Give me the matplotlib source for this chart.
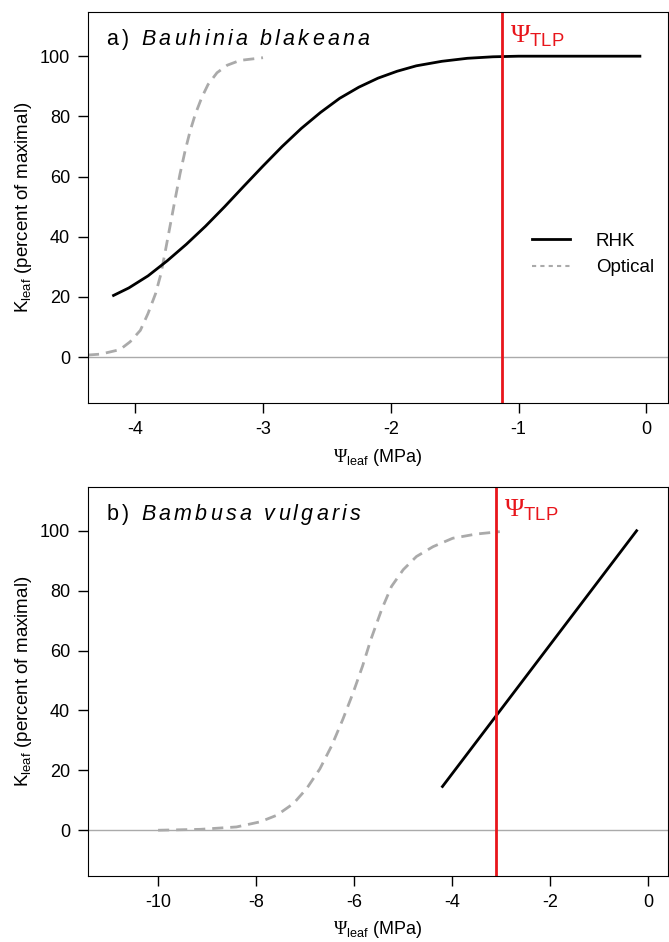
import matplotlib
matplotlib.use("Agg")
import matplotlib.pyplot as plt
from matplotlib.lines import Line2D
from matplotlib.transforms import offset_copy

plt.rcParams["font.family"] = ["Liberation Sans", "DejaVu Sans"]
plt.rcParams["mathtext.fontset"] = "custom"
plt.rcParams["mathtext.rm"] = "Liberation Serif"
plt.rcParams["mathtext.sf"] = "Liberation Sans"
plt.rcParams["mathtext.it"] = "Liberation Sans:italic"

# panel a: Bauhinia blakeana
a_rhk_x = [-4.17, -4.05, -3.9, -3.75, -3.6, -3.45, -3.3, -3.15, -3.0, -2.85, -2.7,
           -2.55, -2.4, -2.25, -2.1, -1.95, -1.8, -1.6, -1.4, -1.2, -1.0, -0.05]
a_rhk_y = [20.5, 23.0, 27.0, 32.0, 37.5, 43.5, 50.0, 56.8, 63.5, 70.0, 76.0,
           81.3, 86.0, 89.7, 92.7, 95.0, 96.8, 98.3, 99.3, 99.8, 100, 100]
a_opt_x = [-4.37, -4.27, -4.12, -4.04, -3.96, -3.9, -3.84, -3.8, -3.77, -3.73,
           -3.69, -3.65, -3.61, -3.57, -3.53, -3.48, -3.43, -3.36, -3.28, -3.18, -3.0]
a_opt_y = [0.7, 1.0, 2.5, 5.1, 8.9, 14.5, 21.2, 27.5, 34.0, 43.0,
           52.0, 60.8, 68.5, 75.2, 80.7, 86.2, 90.6, 94.5, 97.0, 98.6, 99.5]
a_tlp = -1.13

# panel b: Bambusa vulgaris
b_rhk_x = [-4.2, -0.24]
b_rhk_y = [14.6, 100]
b_opt_x = [-10.0, -9.14, -8.4, -7.92, -7.58, -7.24, -6.97, -6.7, -6.46, -6.23,
           -6.02, -5.83, -5.66, -5.44, -5.24, -5.0, -4.73, -4.39, -3.99, -3.51, -3.03]
b_opt_y = [0.0, 0.3, 1.1, 2.8, 5.0, 8.9, 13.9, 20.5, 28.2, 37.1,
           46.0, 54.8, 63.7, 73.7, 81.4, 87.0, 91.4, 94.7, 97.5, 98.9, 99.7]
b_tlp = -3.11

RED = "#e8151b"
GREY = "#aaaaaa"

fig = plt.figure(figsize=(6.69, 9.42), dpi=100)
ax1 = fig.add_axes([0.1315, 0.572, 0.867, 0.415])
ax2 = fig.add_axes([0.1315, 0.070, 0.867, 0.413])
renderer = fig.canvas.get_renderer()


def spaced_text(ax, x, y, parts, gap, **kw):
    # draw text char by char so letters can be spread out like the original
    dx = 0.0
    for s, style in parts:
        for ch in s:
            tr = offset_copy(ax.transAxes, fig=fig, x=dx, y=0, units="dots")
            t = ax.text(x, y, ch, transform=tr, style=style, **kw)
            if ch == " ":
                w = t.get_fontsize() * 0.278 * fig.dpi / 72
            else:
                w = t.get_window_extent(renderer).width
            dx += w + gap


panels = [
    (ax1, a_rhk_x, a_rhk_y, a_opt_x, a_opt_y, a_tlp, (-4.37, 0.17), [-4, -3, -2, -1, 0],
     "a) ", "Bauhinia blakeana", True),
    (ax2, b_rhk_x, b_rhk_y, b_opt_x, b_opt_y, b_tlp, (-11.43, 0.4), [-10, -8, -6, -4, -2, 0],
     "b) ", "Bambusa vulgaris", False),
]

for ax, rx, ry, ox, oy, tlp, xlim, xt, tag, species, show_leg in panels:
    ax.axhline(0, color=GREY, lw=1)
    ax.plot(ox, oy, color=GREY, lw=2, ls=(0, (4, 2.5)))
    ax.plot(rx, ry, color="black", lw=2)
    ax.axvline(tlp, color=RED, lw=2)
    ax.set_xlim(*xlim)
    ax.set_ylim(-15.3, 114.6)
    ax.set_xticks(xt)
    ax.set_xticklabels([str(v) for v in xt])
    ax.set_yticks([0, 20, 40, 60, 80, 100])
    ax.tick_params(length=7, width=1, labelsize=13, pad=6)
    ax.set_xlabel(r"$\Psi_{\mathsf{leaf}}$ (MPa)", fontsize=13, labelpad=6)
    ax.set_ylabel(r"$\mathsf{K}_{\mathsf{leaf}}$ (percent of maximal)", fontsize=13.5, labelpad=4)
    spaced_text(ax, 0.032, 0.915, [(tag, "normal"), (species, "italic")], 3.2,
                fontsize=15.5, va="baseline")
    ax.annotate(r"$\Psi_{\mathsf{TLP}}$", xy=(tlp, 1.0), xycoords=("data", "axes fraction"),
                xytext=(6, -8), textcoords="offset points", color=RED, fontsize=19,
                va="top", ha="left")
    if show_leg:
        handles = [Line2D([], [], color="black", lw=2),
                   Line2D([], [], color=GREY, lw=1.5, ls=(0, (2, 2)))]
        ax.legend(handles, ["RHK", "Optical"], loc="center right", bbox_to_anchor=(1.005, 0.38),
                  frameon=False, fontsize=13.5, handlelength=2.0, handletextpad=1.4)

fig.savefig("out.png", dpi=100)
